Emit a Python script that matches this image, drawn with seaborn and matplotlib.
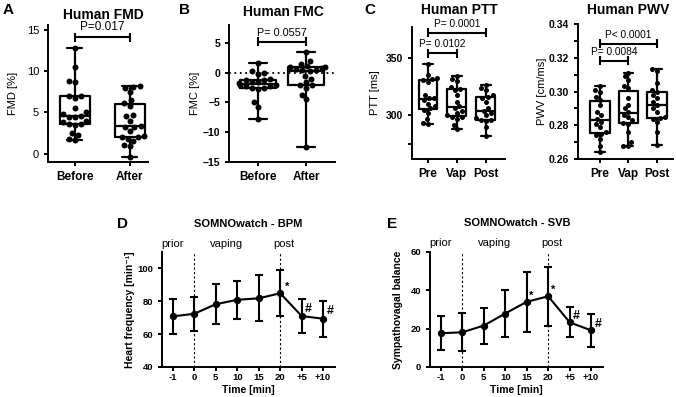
import matplotlib

matplotlib.use("Agg")
import matplotlib.pyplot as plt
import numpy as np
import pandas as pd
import seaborn as sns

sns.set_theme(style="ticks")
plt.rcParams["font.family"] = ["Liberation Sans", "DejaVu Sans"]
plt.rcParams.update({
    "axes.linewidth": 1.4,
    "xtick.major.width": 1.4,
    "ytick.major.width": 1.4,
    "ytick.minor.width": 1.4,
    "xtick.major.size": 3,
    "ytick.major.size": 3,
    "ytick.minor.size": 3,
    "text.color": "black",
    "axes.labelcolor": "black",
    "axes.edgecolor": "black",
    "xtick.color": "black",
    "ytick.color": "black",
})

W, H = 676, 397

# --- A: FMD [%] ---------------------------------------------------------------
fmd_groups = ["Before", "After"]
fmd_before = [12.8, 10.5, 8.8, 8.7, 7.0, 7.0, 6.8, 5.5, 5.0, 4.8, 4.6,
              4.5, 4.4, 4.0, 3.8, 3.6, 3.6, 3.5, 2.5, 2.3, 1.8, 1.7]
fmd_after = [8.2, 8.1, 8.0, 7.5, 6.5, 6.1, 5.8, 4.7, 4.6, 4.0, 3.4,
             3.3, 3.2, 2.8, 2.2, 2.0, 2.0, 1.8, 1.5, 1.0, 0.9, -0.4]

# --- B: FMC [%] ---------------------------------------------------------------
fmc_groups = ["Before", "After"]
fmc_before = [1.7, 0.2, 0.0, -0.3, -1.0, -1.2, -1.3, -1.5, -1.6, -1.8,
              -2.0, -2.1, -2.2, -2.3, -2.5, -2.6, -2.7, -5.0, -5.8, -7.7]
fmc_after = [3.4, 2.0, 1.5, 1.1, 1.0, 0.9, 0.8, 0.6, 0.5, 0.4,
             0.2, -0.5, -1.0, -1.5, -2.0, -2.1, -2.5, -3.8, -4.5, -12.5]

# --- C: PTT [ms] and PWV [cm/ms] ----------------------------------------------
pulse_groups = ["Pre", "Vap", "Post"]
ptt_pre = [345, 335, 333, 332, 331, 329, 318, 315, 315, 313, 310, 308,
           306, 305, 302, 297, 293, 292.8]
ptt_vap = [334.7, 332, 330, 325, 323, 322, 318, 312, 308, 306, 304, 302,
           300, 299, 299, 297, 292, 288.4]
ptt_post = [326.6, 324, 322, 318, 316, 315, 312, 306, 304, 302, 300, 298,
            296, 296, 295, 290, 281.8]
pwv_pre = [0.303, 0.301, 0.300, 0.297, 0.295, 0.292, 0.288, 0.286, 0.284,
           0.282, 0.281, 0.279, 0.276, 0.275, 0.274, 0.272, 0.268, 0.264]
pwv_vap = [0.311, 0.309, 0.307, 0.303, 0.302, 0.296, 0.292, 0.290, 0.288,
           0.286, 0.285, 0.283, 0.2815, 0.281, 0.276, 0.270, 0.268, 0.2675]
pwv_post = [0.3135, 0.312, 0.305, 0.301, 0.300, 0.298, 0.296, 0.294, 0.292,
            0.290, 0.288, 0.285, 0.2845, 0.284, 0.282, 0.276, 0.2685]

# --- D/E: SOMNOwatch time course (mean +/- SD) -------------------------------
time_labels = ["-1", "0", "5", "10", "15", "20", "+5", "+10"]
bpm_mean = [70.8, 72.4, 78.2, 80.9, 81.8, 84.9, 71.0, 69.4]
bpm_sd = [10.5, 10.3, 12.3, 11.5, 13.9, 14.0, 10.6, 10.9]
svb_mean = [17.6, 18.1, 21.6, 27.9, 34.0, 36.9, 23.3, 19.1]
svb_sd = [8.9, 9.9, 9.4, 12.3, 15.7, 15.3, 7.8, 8.6]
bpm_marks = [("*", 5.33, 88.9), ("#", 6.3, 75.4), ("#", 7.33, 74.3)]
svb_marks = [("*", 4.2, 37.3), ("*", 5.24, 40.2), ("#", 6.3, 26.8), ("#", 7.33, 22.4)]


def px_axes(fig, x0, y0, x1, y1):
    return fig.add_axes([x0 / W, 1 - y1 / H, (x1 - x0) / W, (y1 - y0) / H])


def fig_text(fig, x, y, s, **kw):
    fig.text(x / W, 1 - y / H, s, **kw)


def px_to_data(ax, px):
    y0, y1 = ax.get_ylim()
    return px * (y1 - y0) / (ax.get_position().height * H)


def box_panel(ax, groups, values, width, dot):
    df = pd.DataFrame({
        "group": np.repeat(groups, [len(v) for v in values]),
        "value": np.concatenate(values),
    })
    sns.boxplot(data=df, x="group", y="value", order=groups, ax=ax,
                whis=(0, 100), width=width, fill=False, color="black",
                linewidth=1.6, showfliers=False)
    sns.swarmplot(data=df, x="group", y="value", order=groups, ax=ax,
                  color="black", size=dot)
    ax.set_xlabel("")
    sns.despine(ax=ax)
    for lab in ax.get_xticklabels():
        lab.set_fontweight("bold")
        lab.set_fontsize(8.5)


def bracket(ax, x0, x1, y, text, fs):
    dy = px_to_data(ax, 4.5)
    kw = dict(color="black", lw=1.5, clip_on=False, solid_capstyle="butt")
    ax.plot([x0, x1], [y, y], **kw)
    for x in (x0, x1):
        ax.plot([x, x], [y - dy, y + dy], **kw)
    ax.text((x0 + x1) / 2, y + dy * 0.9, text, ha="center", va="bottom",
            fontsize=fs)


def time_panel(ax, mean, sd, marks, ylim, yticks, ylabel, level):
    x = np.arange(len(time_labels))
    ax.errorbar(x, mean, yerr=sd, fmt="none", ecolor="black", elinewidth=1.5,
                capsize=3, capthick=1.5)
    sns.lineplot(x=x, y=mean, ax=ax, color="black", lw=1.5, marker="o",
                 markersize=4.5, markeredgecolor="black")
    ax.set_xlim(-0.5, 7.55)
    ax.set_ylim(*ylim)
    ax.set_yticks(yticks)
    ax.set_xticks(x)
    ax.set_xticklabels(time_labels)
    ax.tick_params(axis="x", pad=1.5)
    for lab in ax.get_xticklabels() + ax.get_yticklabels():
        lab.set_fontweight("bold")
        lab.set_fontsize(6.8)
    for xv in (1, 5):
        ax.axvline(xv, color="black", lw=0.8, ls=(0, (2, 2)))
    for s, xv, yv in marks:
        ax.text(xv, yv, s, ha="center", va="center", fontsize=9 if s == "#" else 8,
                fontweight="bold")
    for s, xv in (("prior", 0), ("vaping", 2.5), ("post", 5.15)):
        ax.text(xv, level, s, ha="center", va="bottom", fontsize=8)
    ax.set_xlabel("Time [min]", fontsize=7.5, fontweight="bold")
    ax.xaxis.set_label_coords(0.5, -0.155)
    ax.set_ylabel(ylabel, fontsize=7.5, fontweight="bold")
    ax.yaxis.set_label_coords(-0.158, 0.5)
    sns.despine(ax=ax)


fig = plt.figure(figsize=(W / 100, H / 100), dpi=100)

# A
ax = px_axes(fig, 48, 25, 148, 162)
box_panel(ax, fmd_groups, [fmd_before, fmd_after], 0.55, 4.3)
ax.set_xlim(-0.49, 1.33)
ax.set_ylim(-1, 15.6)
ax.set_yticks([0, 5, 10, 15])
ax.tick_params(axis="y", labelsize=8)
ax.set_ylabel("FMD [%]", fontsize=8)
ax.yaxis.set_label_coords(-0.30, 0.5)
bracket(ax, 0, 1, 14.1, "P=0.017", 8.5)

# B
ax = px_axes(fig, 229, 25, 335, 162)
ax.axhline(0, color="black", lw=1.3, ls=(0, (1, 2)))
box_panel(ax, fmc_groups, [fmc_before, fmc_after], 0.75, 4.3)
ax.set_xlim(-0.6, 1.6)
ax.set_ylim(-15, 8)
ax.set_yticks([-15, -10, -5, 0, 5])
ax.tick_params(axis="y", labelsize=7.5)
for lab in ax.get_yticklabels():
    lab.set_fontweight("bold")
ax.set_ylabel("FMC [%]", fontsize=8)
ax.yaxis.set_label_coords(-0.27, 0.5)
bracket(ax, 0, 1, 5.2, "P= 0.0557", 7.8)

# C - PTT
ax = px_axes(fig, 412, 27, 505, 159)
box_panel(ax, pulse_groups, [ptt_pre, ptt_vap, ptt_post], 0.65, 3.6)
ax.set_xlim(-0.55, 2.66)
ax.set_ylim(262, 377)
ax.set_yticks([300, 350])
ax.set_yticks([275], minor=True)
ax.tick_params(axis="y", labelsize=7.5)
for lab in ax.get_yticklabels():
    lab.set_fontweight("bold")
ax.set_ylabel("PTT [ms]", fontsize=8)
ax.yaxis.set_label_coords(-0.34, 0.5)
bracket(ax, 0, 1, 354, "P= 0.0102", 7.3)
bracket(ax, 0, 2, 372, "P= 0.0001", 7.3)

# C - PWV
ax = px_axes(fig, 578, 24, 673, 159)
box_panel(ax, pulse_groups, [pwv_pre, pwv_vap, pwv_post], 0.67, 3.6)
ax.set_xlim(-0.77, 2.56)
ax.set_ylim(0.26, 0.34)
ax.set_yticks([0.26, 0.28, 0.30, 0.32, 0.34])
ax.set_yticklabels(["0.26", "0.28", "0.30", "0.32", "0.34"])
ax.set_yticks([0.27, 0.29, 0.31, 0.33], minor=True)
ax.tick_params(axis="y", labelsize=7.5)
for lab in ax.get_yticklabels():
    lab.set_fontweight("bold")
ax.set_ylabel("PWV [cm/ms]", fontsize=8)
ax.yaxis.set_label_coords(-0.33, 0.5)
bracket(ax, 0, 1, 0.3182, "P= 0.0084", 7.3)
bracket(ax, 0, 2, 0.3284, "P< 0.0001", 7.3)

# D
ax = px_axes(fig, 162, 252, 335, 367)
time_panel(ax, bpm_mean, bpm_sd, bpm_marks, (40, 110), [40, 60, 80, 100],
           "Heart frequency [min⁻¹]", 112)

# E
ax = px_axes(fig, 430, 252, 603, 367)
time_panel(ax, svb_mean, svb_sd, svb_marks, (0, 60), [0, 20, 40, 60],
           "Sympathovagal balance", 62)

# titles and panel letters
bold = dict(fontweight="bold", ha="center", va="center")
fig_text(fig, 103, 15, "Human FMD", fontsize=10, **bold)
fig_text(fig, 283, 12, "Human FMC", fontsize=10, **bold)
fig_text(fig, 459, 10, "Human PTT", fontsize=10, **bold)
fig_text(fig, 628, 10, "Human PWV", fontsize=10, **bold)
fig_text(fig, 248, 224, "SOMNOwatch - BPM", fontsize=8, **bold)
fig_text(fig, 517, 223, "SOMNOwatch - SVB", fontsize=8, **bold)
fig_text(fig, 8, 10, "A", fontsize=11, **bold)
fig_text(fig, 185, 10, "B", fontsize=11, **bold)
fig_text(fig, 370, 10, "C", fontsize=11, **bold)
fig_text(fig, 122, 224, "D", fontsize=11, **bold)
fig_text(fig, 392, 224, "E", fontsize=11, **bold)

fig.savefig("out.png", dpi=100)
